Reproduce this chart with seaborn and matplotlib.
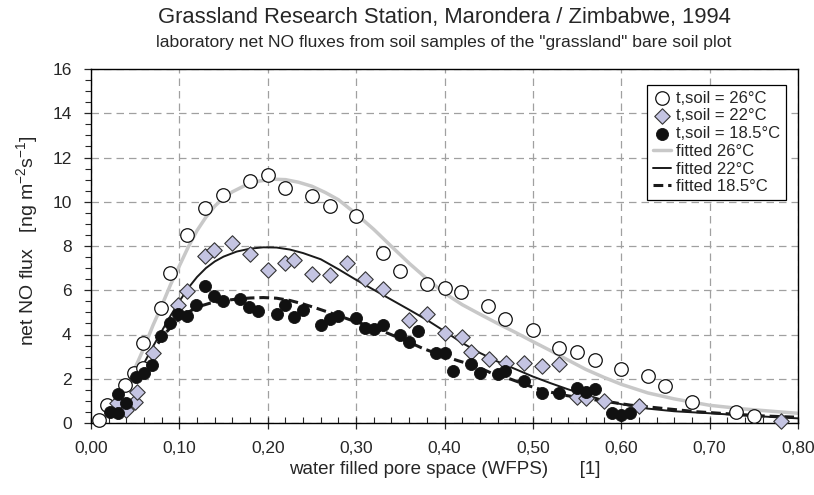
import numpy as np
import pandas as pd
import matplotlib
matplotlib.use("Agg")
import matplotlib.pyplot as plt
import seaborn as sns
from matplotlib.ticker import MultipleLocator, FuncFormatter

sns.set_style("white")
plt.rcParams['font.family'] = ['Liberation Sans', 'DejaVu Sans']
plt.rcParams['mathtext.fontset'] = 'custom'
plt.rcParams['mathtext.rm'] = 'Liberation Sans'
plt.rcParams['mathtext.it'] = 'Liberation Sans:italic'
plt.rcParams['mathtext.bf'] = 'Liberation Sans:bold'

# ---- data ----
t26_x = [0.009, 0.018, 0.038, 0.049, 0.059, 0.059, 0.079, 0.089, 0.109, 0.129, 0.149, 0.18, 0.20,
         0.219, 0.25, 0.27, 0.30, 0.33, 0.35, 0.38, 0.40, 0.419, 0.449, 0.469, 0.50, 0.53, 0.55,
         0.57, 0.60, 0.63, 0.65, 0.68, 0.73, 0.75]
t26_y = [0.14, 0.81, 1.72, 2.28, 2.47, 3.6, 5.19, 6.8, 8.48, 9.7, 10.3, 10.96, 11.2,
         10.62, 10.27, 9.83, 9.34, 7.68, 6.89, 6.29, 6.12, 5.94, 5.29, 4.69, 4.2, 3.41, 3.23,
         2.85, 2.43, 2.13, 1.67, 0.96, 0.51, 0.32]

t22_x = [0.029, 0.04, 0.05, 0.052, 0.07, 0.099, 0.109, 0.129, 0.139, 0.16, 0.18, 0.20, 0.219,
         0.23, 0.25, 0.27, 0.29, 0.31, 0.33, 0.36, 0.38, 0.40, 0.42, 0.43, 0.45, 0.47, 0.49,
         0.51, 0.53, 0.55, 0.56, 0.58, 0.62, 0.781]
t22_y = [0.9, 0.59, 0.96, 1.42, 3.15, 5.34, 5.97, 7.53, 7.83, 8.13, 7.65, 6.9, 7.25,
         7.37, 6.74, 6.67, 7.25, 6.52, 6.05, 4.66, 4.93, 4.06, 3.88, 3.23, 2.88, 2.73, 2.73,
         2.58, 2.67, 1.16, 1.12, 1.0, 0.77, 0.1]

t18_x = [0.021, 0.03, 0.03, 0.04, 0.051, 0.06, 0.069, 0.079, 0.089, 0.099, 0.109, 0.119, 0.129,
         0.139, 0.149, 0.169, 0.179, 0.189, 0.21, 0.219, 0.23, 0.24, 0.26, 0.27, 0.28, 0.30,
         0.31, 0.32, 0.33, 0.35, 0.36, 0.37, 0.39, 0.40, 0.41, 0.43, 0.44, 0.46, 0.469, 0.49,
         0.51, 0.53, 0.55, 0.56, 0.57, 0.59, 0.60, 0.61]
t18_y = [0.51, 0.47, 1.31, 0.92, 2.1, 2.28, 2.62, 3.91, 4.51, 4.93, 4.84, 5.34, 6.2,
         5.72, 5.52, 5.6, 5.24, 5.08, 4.93, 5.34, 4.78, 5.11, 4.43, 4.69, 4.84, 4.73,
         4.28, 4.24, 4.43, 3.98, 3.68, 4.18, 3.15, 3.15, 2.37, 2.67, 2.25, 2.22, 2.37, 1.92,
         1.37, 1.34, 1.57, 1.42, 1.52, 0.47, 0.36, 0.47]

fit26_x = [0.040, 0.050, 0.060, 0.070, 0.080, 0.090, 0.100, 0.110, 0.120, 0.130, 0.140, 0.150,
           0.160, 0.175, 0.190, 0.205, 0.220, 0.235, 0.250, 0.265, 0.280, 0.300, 0.320, 0.340,
           0.360, 0.380, 0.400, 0.420, 0.440, 0.460, 0.480, 0.500, 0.520, 0.540, 0.560, 0.580,
           0.600, 0.630, 0.660, 0.700, 0.740, 0.780, 0.800]
fit26_y = [1.75, 2.5, 3.4, 4.4, 5.3, 6.25, 7.1, 7.95, 8.7, 9.3, 9.8, 10.17,
           10.45, 10.75, 10.93, 11.02, 11.0, 10.88, 10.7, 10.42, 10.09, 9.45, 8.75, 7.98,
           7.22, 6.52, 5.87, 5.35, 4.92, 4.5, 4.1, 3.68, 3.27, 2.84, 2.42, 2.07,
           1.75, 1.36, 1.09, 0.8, 0.63, 0.5, 0.44]

fit22_x = [0.058, 0.070, 0.080, 0.090, 0.100, 0.110, 0.120, 0.130, 0.140, 0.150, 0.165, 0.180,
           0.195, 0.210, 0.225, 0.240, 0.260, 0.280, 0.300, 0.320, 0.340, 0.360, 0.380, 0.400,
           0.420, 0.440, 0.460, 0.480, 0.500, 0.520, 0.540, 0.560, 0.580, 0.600, 0.630, 0.660,
           0.700, 0.740, 0.780, 0.800]
fit22_y = [2.55, 3.45, 4.15, 4.85, 5.5, 6.1, 6.6, 7.0, 7.3, 7.52, 7.75, 7.88,
           7.94, 7.93, 7.84, 7.68, 7.4, 6.95, 6.47, 6.02, 5.57, 5.12, 4.66, 4.15,
           3.62, 3.17, 2.78, 2.44, 2.1, 1.8, 1.52, 1.27, 1.03, 0.85, 0.65, 0.53,
           0.44, 0.34, 0.25, 0.21]

fit18_x = [0.066, 0.075, 0.085, 0.095, 0.105, 0.115, 0.125, 0.135, 0.150, 0.165, 0.180, 0.195,
           0.210, 0.225, 0.240, 0.255, 0.275, 0.295, 0.315, 0.335, 0.355, 0.375, 0.395, 0.415,
           0.435, 0.455, 0.475, 0.497, 0.515, 0.535, 0.555, 0.575, 0.610, 0.647, 0.685, 0.723,
           0.760, 0.800]
fit18_y = [3.05, 3.55, 4.1, 4.52, 4.88, 5.12, 5.3, 5.42, 5.53, 5.6, 5.65, 5.67,
           5.64, 5.54, 5.38, 5.19, 4.92, 4.64, 4.38, 4.07, 3.74, 3.38, 3.08, 2.82,
           2.58, 2.22, 1.98, 1.66, 1.44, 1.26, 1.13, 1.02, 0.81, 0.66, 0.51, 0.41,
           0.32, 0.26]

labels_pts = ["t,soil = 26°C", "t,soil = 22°C", "t,soil = 18.5°C"]
labels_fit = ["fitted 26°C", "fitted 22°C", "fitted 18.5°C"]
xtick_vals = [0.0, 0.1, 0.2, 0.3, 0.4, 0.5, 0.6, 0.7, 0.8]
ytick_vals = [0, 2, 4, 6, 8, 10, 12, 14, 16]

# ---- figure ----
fig = plt.figure(figsize=(8.14, 4.95), dpi=100)
ax = fig.add_axes([91/814, 1-423/495, (798-91)/814, (423-69)/495])

ax.grid(True, which='major', color='#a0a0a0', linestyle=(0, (6, 4)), linewidth=0.9)
ax.set_axisbelow(True)

fits = [
    (fit26_x, fit26_y, labels_fit[0], dict(color='#c8c8c8', linewidth=2.5, linestyle='-')),
    (fit22_x, fit22_y, labels_fit[1], dict(color='#1a1a1a', linewidth=1.4, linestyle='-')),
    (fit18_x, fit18_y, labels_fit[2], dict(color='#1a1a1a', linewidth=2.2, linestyle=(0, (3.2, 1.6)))),
]
line_handles = []
for fx, fy, lab, kw in fits:
    df = pd.DataFrame({"x": fx, "y": fy})
    sns.lineplot(data=df, x="x", y="y", ax=ax, sort=False, estimator=None, zorder=2, **kw)
    line_handles.append(ax.lines[-1])

pts = [
    (t26_x, t26_y, labels_pts[0], dict(marker='o', s=95, facecolor='white', edgecolor='#111111', linewidth=0.9)),
    (t22_x, t22_y, labels_pts[1], dict(marker='D', s=62, facecolor='#c4c4e2', edgecolor='#333333', linewidth=0.8)),
    (t18_x, t18_y, labels_pts[2], dict(marker='o', s=75, facecolor='#111111', edgecolor='#111111', linewidth=0.6)),
]
pt_handles = []
for px, py, lab, kw in pts:
    df = pd.DataFrame({"x": px, "y": py})
    sns.scatterplot(data=df, x="x", y="y", ax=ax, zorder=3, clip_on=False, **kw)
    pt_handles.append(ax.collections[-1])

ax.set_xlim(0, 0.8)
ax.set_ylim(0, 16)
ax.set_xticks(xtick_vals)
ax.set_yticks(ytick_vals)
ax.xaxis.set_minor_locator(MultipleLocator(0.02))
ax.yaxis.set_minor_locator(MultipleLocator(0.5))
ax.xaxis.set_major_formatter(FuncFormatter(lambda v, p: f"{v:.2f}".replace('.', ',')))
ax.yaxis.set_major_formatter(FuncFormatter(lambda v, p: f"{int(round(v))}"))

ax.tick_params(axis='x', which='major', direction='inout', length=8, width=0.9, labelsize=12.5, pad=9, bottom=True)
ax.tick_params(axis='x', which='minor', direction='in', length=4, width=0.8, bottom=True)
ax.tick_params(axis='y', which='major', direction='out', length=5, width=0.9, labelsize=12.5, pad=9, left=True)
ax.tick_params(axis='y', which='minor', direction='out', length=4, width=0.8, left=True)

for sp in ax.spines.values():
    sp.set_color('black')
    sp.set_linewidth(1.0)
    sp.set_visible(True)

ax.set_xlabel("water filled pore space (WFPS)      [1]", fontsize=13.5)
ax.set_ylabel("net NO flux   [ng m$^{-2}$s$^{-1}$]", fontsize=14)
ax.xaxis.set_label_coords(0.5, -0.108)
ax.yaxis.set_label_coords(-0.072, 0.515)

fig.text(444/814, 1-18/495, "Grassland Research Station, Marondera / Zimbabwe, 1994",
         ha='center', va='center', fontsize=15.8)
fig.text(444/814, 1-42/495, 'laboratory net NO fluxes from soil samples of the "grassland" bare soil plot',
         ha='center', va='center', fontsize=12.6)

leg = ax.legend(pt_handles + line_handles, labels_pts + labels_fit,
                loc='upper right', bbox_to_anchor=((786-91)/707, (423-85)/354),
                frameon=True, fancybox=False, framealpha=1, edgecolor='black',
                fontsize=12, handlelength=1.1, handletextpad=0.3, borderpad=0.35,
                labelspacing=0.16, borderaxespad=0)
leg.get_frame().set_linewidth(0.9)

fig.savefig("out.png", dpi=100)
